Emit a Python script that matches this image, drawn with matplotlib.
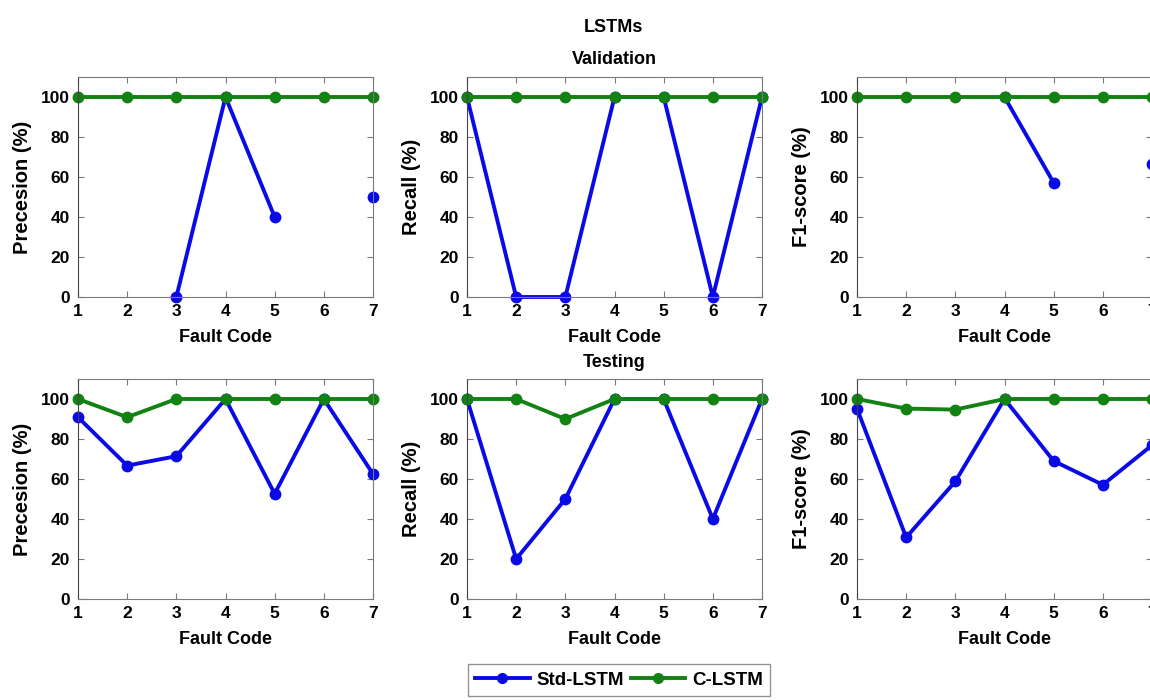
import numpy as np
import matplotlib.pyplot as plt
from matplotlib.lines import Line2D

nan = np.nan

# fault codes on the x axis
fault_codes = [1, 2, 3, 4, 5, 6, 7]

# validation scores (%)
val_prec_std = [nan, nan, 0, 100, 40, nan, 50]
val_prec_c = [100, 100, 100, 100, 100, 100, 100]
val_rec_std = [100, 0, 0, 100, 100, 0, 100]
val_rec_c = [100, 100, 100, 100, 100, 100, 100]
val_f1_std = [nan, nan, nan, 100, 57.1, nan, 66.7]
val_f1_c = [100, 100, 100, 100, 100, 100, 100]

# testing scores (%)
test_prec_std = [90.9, 66.7, 71.4, 100, 52.6, 100, 62.5]
test_prec_c = [100, 90.9, 100, 100, 100, 100, 100]
test_rec_std = [100, 20, 50, 100, 100, 40, 100]
test_rec_c = [100, 100, 90, 100, 100, 100, 100]
test_f1_std = [95.2, 30.8, 58.8, 100, 69.0, 57.1, 76.9]
test_f1_c = [100, 95.2, 94.7, 100, 100, 100, 100]

ylabels = ['Precesion (%)', 'Recall (%)', 'F1-score (%)']
series_names = ['Std-LSTM', 'C-LSTM']

plt.rcParams['font.family'] = ['Liberation Sans', 'DejaVu Sans']
plt.rcParams['font.weight'] = 'bold'

BLUE = '#0a0ae6'
GREEN = '#128212'
GRAY = '#7a7a7a'

fig = plt.figure(figsize=(11.5, 7), dpi=100)

lefts = [78 / 1150, 467 / 1150, 857 / 1150]
bottoms = [1 - 297 / 700, 1 - 599 / 700]
w = 295 / 1150
h = 220 / 700

rows = [
    [(val_prec_std, val_prec_c), (val_rec_std, val_rec_c), (val_f1_std, val_f1_c)],
    [(test_prec_std, test_prec_c), (test_rec_std, test_rec_c), (test_f1_std, test_f1_c)],
]

for r, row in enumerate(rows):
    for c, (std, cl) in enumerate(row):
        ax = fig.add_axes([lefts[c], bottoms[r], w, h])
        ax.plot(fault_codes, std, '-o', color=BLUE, lw=2.8, ms=7.5, clip_on=False)
        ax.plot(fault_codes, cl, '-o', color=GREEN, lw=2.8, ms=7.5, clip_on=False)
        ax.set_xlim(1, 7)
        ax.set_ylim(0, 110)
        ax.set_xticks(fault_codes)
        ax.set_yticks([0, 20, 40, 60, 80, 100])
        ax.tick_params(axis='y', pad=6)
        ax.tick_params(axis='x', pad=5)
        ax.tick_params(direction='in', top=True, right=True, length=4,
                       color=GRAY, labelsize=12.5)
        for lab in ax.get_xticklabels() + ax.get_yticklabels():
            lab.set_fontweight('bold')
        for sp in ax.spines.values():
            sp.set_color(GRAY)
        ax.spines['left'].set_color('#444444')
        ax.set_xlabel('Fault Code', fontsize=13, fontweight='bold', labelpad=7)
        ax.set_ylabel(ylabels[c], fontsize=14.5, fontweight='bold', labelpad=6)
        if c == 1:
            ax.set_title('Validation' if r == 0 else 'Testing',
                         fontsize=13, fontweight='bold', pad=9)

fig.text(613 / 1150, 1 - 28 / 700, 'LSTMs', ha='center', va='center',
         fontsize=13, fontweight='bold')

handles = [Line2D([], [], color=BLUE, lw=2.8, marker='o', ms=7),
           Line2D([], [], color=GREEN, lw=2.8, marker='o', ms=7)]
leg = fig.legend(handles, series_names, loc='center', ncol=2,
                 bbox_to_anchor=(619 / 1150, 1 - 680 / 700),
                 frameon=True, fancybox=False, fontsize=13.5,
                 handlelength=2.9, columnspacing=0.4, handletextpad=0.35,
                 borderpad=0.4, borderaxespad=0)
leg.get_frame().set_edgecolor(GRAY)
leg.get_frame().set_linewidth(1.0)
for t in leg.get_texts():
    t.set_fontweight('bold')

fig.savefig('out.png', dpi=100)
